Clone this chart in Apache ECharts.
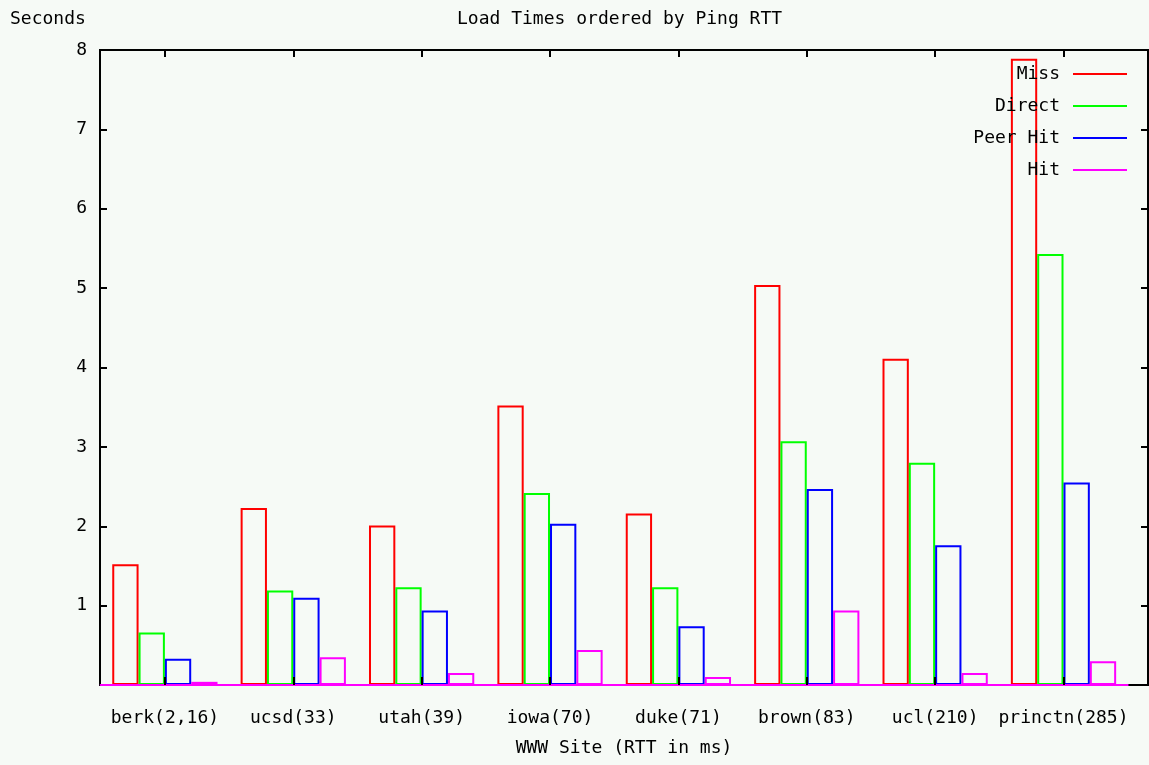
<!DOCTYPE html>
<html>
<head>
<meta charset="utf-8">
<script src="https://cdn.jsdelivr.net/npm/echarts@6/dist/echarts.min.js"></script>
<style>
  html, body { margin: 0; padding: 0; background: #f6faf6; }
  #chart { width: 1149px; height: 765px; }
</style>
</head>
<body>
<div id="chart"></div>
<script>
// data
const sites = ['berk(2,16)', 'ucsd(33)', 'utah(39)', 'iowa(70)', 'duke(71)', 'brown(83)', 'ucl(210)', 'princtn(285)'];
const miss = [1.52, 2.23, 2.01, 3.52, 2.16, 5.04, 4.11, 7.89];
const direct = [0.66, 1.19, 1.23, 2.42, 1.23, 3.07, 2.80, 5.43];
const peerHit = [0.33, 1.10, 0.94, 2.03, 0.74, 2.47, 1.76, 2.55];
const hit = [0.04, 0.35, 0.15, 0.44, 0.10, 0.94, 0.15, 0.30];
const yTicks = [0, 1, 2, 3, 4, 5, 6, 7, 8];

const FONT = 'DejaVu Sans Mono';
const chart = echarts.init(document.getElementById('chart'));

const seriesDefs = [
  { name: 'Miss', data: miss, color: '#ff0000' },
  { name: 'Direct', data: direct, color: '#00ff00' },
  { name: 'Peer Hit', data: peerHit, color: '#0000ff' },
  { name: 'Hit', data: hit, color: '#ff00ff' },
];

const option = {
  backgroundColor: '#f6faf6',
  animation: false,
  title: [
    {
      text: 'Load Times ordered by Ping RTT',
      left: 457,
      top: 10,
      padding: 0,
      textStyle: { fontFamily: FONT, fontSize: 18, fontWeight: 'normal', color: '#000' },
    },
    {
      text: 'Seconds',
      left: 10,
      top: 10,
      padding: 0,
      textStyle: { fontFamily: FONT, fontSize: 18, fontWeight: 'normal', color: '#000' },
    },
  ],
  legend: {
    orient: 'vertical',
    right: 22,
    top: 64,
    padding: 0,
    align: 'right',
    itemWidth: 54,
    itemHeight: 2,
    itemGap: 12,
    icon: 'rect',
    selectedMode: false,
    formatter: (name) => name.padStart(8, ' '),
    textStyle: { fontFamily: FONT, fontSize: 18, color: '#000', lineHeight: 20, padding: [0, 8, 0, 0] },
    data: seriesDefs.map(s => ({ name: s.name, itemStyle: { color: s.color, borderWidth: 0 } })),
  },
  grid: [
    // frame
    {
      left: 100, right: 1, top: 50, bottom: 80,
      outerBoundsMode: 'none',
      show: true, borderColor: '#000', borderWidth: 2, backgroundColor: 'transparent',
    },
    // bars
    { left: 100.7, width: 1027, top: 50, bottom: 80, outerBoundsMode: 'none' },
  ],
  xAxis: [
    {
      gridIndex: 0,
      type: 'value',
      min: 0,
      max: 1,
      name: 'WWW Site (RTT in ms)',
      nameLocation: 'middle',
      nameGap: 54,
      nameTextStyle: { fontFamily: FONT, fontSize: 18, color: '#000' },
      axisLine: { show: false },
      axisTick: { show: false },
      axisLabel: { show: false },
      splitLine: { show: false },
    },
    {
      gridIndex: 1,
      type: 'category',
      data: sites,
      position: 'bottom',
      z: 5,
      axisLine: { show: true, lineStyle: { color: '#ff00ff', width: 2 } },
      axisTick: { show: true, alignWithLabel: true, inside: true, length: 8, lineStyle: { color: '#000', width: 2 } },
      axisLabel: { interval: 0, fontFamily: FONT, fontSize: 18, color: '#000', margin: 24 },
      splitLine: { show: false },
    },
    {
      gridIndex: 1,
      type: 'category',
      data: sites,
      position: 'top',
      axisLine: { show: false },
      axisTick: { show: true, interval: 0, alignWithLabel: true, inside: true, length: 7, lineStyle: { color: '#000', width: 2 } },
      axisLabel: { show: false },
      splitLine: { show: false },
    },
  ],
  yAxis: [
    {
      gridIndex: 0,
      type: 'value',
      min: yTicks[0],
      max: yTicks[yTicks.length - 1],
      interval: 1,
      position: 'left',
      axisLine: { show: false },
      axisTick: { show: true, inside: true, length: 7, lineStyle: { color: '#000', width: 2 } },
      axisLabel: {
        fontFamily: FONT, fontSize: 18, color: '#000', margin: 13,
        formatter: (v) => (v === 0 ? '' : String(v)),
      },
      splitLine: { show: false },
    },
    {
      gridIndex: 0,
      type: 'value',
      min: yTicks[0],
      max: yTicks[yTicks.length - 1],
      interval: 1,
      position: 'right',
      axisLine: { show: false },
      axisTick: { show: true, inside: true, length: 7, lineStyle: { color: '#000', width: 2 } },
      axisLabel: { show: false },
      splitLine: { show: false },
    },
    {
      gridIndex: 1,
      type: 'value',
      min: yTicks[0],
      max: yTicks[yTicks.length - 1],
      show: false,
    },
  ],
  series: seriesDefs.map(s => ({
    name: s.name,
    type: 'bar',
    xAxisIndex: 1,
    yAxisIndex: 2,
    barGap: '0%',
    barCategoryGap: '18%',
    data: s.data,
    itemStyle: { color: 'transparent', borderColor: s.color, borderWidth: 2 },
    emphasis: { disabled: true },
  })),
};

chart.setOption(option);
</script>
</body>
</html>
